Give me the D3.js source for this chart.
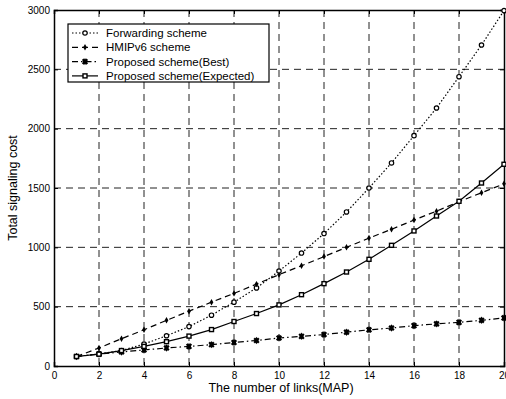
<!DOCTYPE html>
<html>
<head>
<meta charset="utf-8">
<script src="https://cdn.jsdelivr.net/npm/d3@7"></script>
<style>
  body { margin: 0; background: #fff; }
  svg { display: block; font-family: "Liberation Sans", Arial, sans-serif; }
</style>
</head>
<body>
<svg></svg>
<script>
// Data
const links = d3.range(1, 21);
const forwarding = [80, 102, 130, 185, 255, 332, 428, 538, 658, 800, 952, 1116, 1298, 1500, 1711, 1941, 2174, 2438, 2705, 2995];
const hmipv6 = [80, 152, 230, 305, 385, 462, 538, 612, 690, 770, 845, 922, 1000, 1078, 1152, 1230, 1305, 1385, 1460, 1535];
const best = [80, 100, 118, 135, 152, 165, 180, 198, 215, 236, 250, 265, 285, 305, 320, 340, 355, 368, 385, 405];
const expected = [80, 100, 130, 165, 205, 252, 307, 375, 442, 515, 601, 694, 792, 899, 1017, 1138, 1264, 1388, 1542, 1700];
const seriesNames = ["Forwarding scheme", "HMIPv6 scheme", "Proposed scheme(Best)", "Proposed scheme(Expected)"];
const xTicks = d3.range(0, 21, 2);
const yTicks = d3.range(0, 3001, 500);

const width = 506;
const height = 399;
const margin = { top: 10, right: 2, bottom: 33, left: 54 };

const svg = d3.select("svg")
    .attr("width", width)
    .attr("height", height);

const x = d3.scaleLinear().domain([0, 20]).range([margin.left, width - margin.right]);
const y = d3.scaleLinear().domain([0, 3000]).range([height - margin.bottom, margin.top]);

// Grid lines (dashed)
const grid = svg.append("g").attr("stroke", "#222").attr("stroke-width", 1).attr("stroke-dasharray", "7,5");
grid.selectAll(".gx").data(xTicks.slice(1, -1)).enter().append("line")
    .attr("x1", d => x(d)).attr("x2", d => x(d))
    .attr("y1", y(3000)).attr("y2", y(0));
grid.selectAll(".gy").data(yTicks.slice(1, -1)).enter().append("line")
    .attr("x1", x(0)).attr("x2", x(20))
    .attr("y1", d => y(d)).attr("y2", d => y(d));

// Axes
const xAxis = svg.append("g")
    .attr("transform", `translate(0,${y(0)})`)
    .call(d3.axisBottom(x).tickValues(xTicks).tickSize(-4).tickPadding(6).tickFormat(d3.format("d")));
const yAxis = svg.append("g")
    .attr("transform", `translate(${x(0)},0)`)
    .call(d3.axisLeft(y).tickValues(yTicks).tickSize(-4).tickPadding(4).tickFormat(d3.format("d")));
svg.append("g")
    .attr("transform", `translate(0,${y(3000)})`)
    .call(d3.axisTop(x).tickValues(xTicks).tickSize(-4).tickFormat(""));
svg.append("g")
    .attr("transform", `translate(${x(20)},0)`)
    .call(d3.axisRight(y).tickValues(yTicks).tickSize(-4).tickFormat(""));
svg.selectAll(".domain").attr("stroke", "#000").attr("stroke-width", 1.5);
svg.selectAll(".tick line").attr("stroke", "#000");
[xAxis, yAxis].forEach(a => a.selectAll("text")
    .attr("font-size", 10).attr("fill", "#000").attr("font-family", "Liberation Sans, Arial, sans-serif"));

// Axis titles
svg.append("text")
    .attr("x", (x(0) + x(20)) / 2 + 2).attr("y", 392)
    .attr("text-anchor", "middle").attr("font-size", 12.5)
    .text("The number of links(MAP)");
svg.append("text")
    .attr("transform", `translate(17,${(y(0) + y(3000)) / 2}) rotate(-90)`)
    .attr("text-anchor", "middle").attr("font-size", 12.5)
    .text("Total signaling cost");

// Series
const series = [
    { name: seriesNames[0], values: forwarding, dash: "1.5,2", marker: "circle" },
    { name: seriesNames[1], values: hmipv6, dash: "6,4", marker: "diamond" },
    { name: seriesNames[2], values: best, dash: "6,3,1.5,3", marker: "star" },
    { name: seriesNames[3], values: expected, dash: null, marker: "square" }
];

const line = d3.line().x((d, i) => x(links[i])).y(d => y(d));

function drawMarker(g, type, cx, cy) {
    if (type === "circle") {
        g.append("circle").attr("cx", cx).attr("cy", cy).attr("r", 2.2)
            .attr("fill", "#fff").attr("stroke", "#000").attr("stroke-width", 1.2);
    } else if (type === "diamond") {
        g.append("path").attr("d", d3.symbol(d3.symbolDiamond, 12)())
            .attr("transform", `translate(${cx},${cy})`).attr("fill", "#000");
    } else if (type === "star") {
        g.append("path").attr("d", d3.symbol(d3.symbolCross, 24)())
            .attr("transform", `translate(${cx},${cy}) rotate(45)`).attr("fill", "#000");
        g.append("path").attr("d", d3.symbol(d3.symbolDiamond, 16)())
            .attr("transform", `translate(${cx},${cy})`).attr("fill", "#000");
    } else {
        g.append("rect").attr("x", cx - 2).attr("y", cy - 2).attr("width", 4).attr("height", 4)
            .attr("fill", "#fff").attr("stroke", "#000").attr("stroke-width", 1.4);
    }
}

series.forEach(s => {
    const g = svg.append("g");
    g.append("path").datum(s.values)
        .attr("d", line)
        .attr("fill", "none").attr("stroke", "#000").attr("stroke-width", 1.2)
        .attr("stroke-dasharray", s.dash);
    s.values.forEach((v, i) => drawMarker(g, s.marker, x(links[i]), y(v)));
});

// Legend
const legend = svg.append("g");
legend.append("rect")
    .attr("x", 68).attr("y", 24).attr("width", 201).attr("height", 58)
    .attr("fill", "#fff").attr("stroke", "#000").attr("stroke-width", 1.2);
series.forEach((s, i) => {
    const ly = 33 + i * 14.3;
    legend.append("line")
        .attr("x1", 72).attr("x2", 98).attr("y1", ly).attr("y2", ly)
        .attr("stroke", "#000").attr("stroke-width", 1.2).attr("stroke-dasharray", s.dash);
    drawMarker(legend, s.marker, 85, ly);
    legend.append("text")
        .attr("x", 106).attr("y", ly + 4)
        .attr("font-size", 11.5)
        .text(s.name);
});
</script>
</body>
</html>
